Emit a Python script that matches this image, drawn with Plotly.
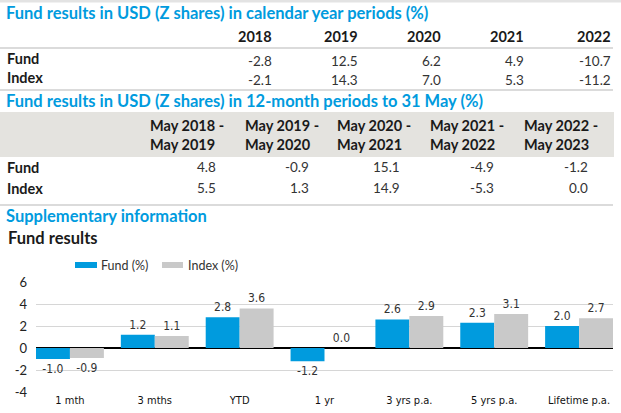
import plotly.graph_objects as go

# ---------------- data ----------------
cal_years = ["2018", "2019", "2020", "2021", "2022"]
cal_fund = [-2.8, 12.5, 6.2, 4.9, -10.7]
cal_index = [-2.1, 14.3, 7.0, 5.3, -11.2]

period_start = ["May 2018 -", "May 2019 -", "May 2020 -", "May 2021 -", "May 2022 -"]
period_end = ["May 2019", "May 2020", "May 2021", "May 2022", "May 2023"]
per_fund = [4.8, -0.9, 15.1, -4.9, -1.2]
per_index = [5.5, 1.3, 14.9, -5.3, 0.0]

row_labels = ["Fund", "Index"]

sup_categories = ["1 mth", "3 mths", "YTD", "1 yr", "3 yrs p.a.", "5 yrs p.a.", "Lifetime p.a."]
sup_fund = [-1.0, 1.2, 2.8, -1.2, 2.6, 2.3, 2.0]
sup_index = [-0.9, 1.1, 3.6, 0.0, 2.9, 3.1, 2.7]
series_names = ["Fund (%)", "Index (%)"]
y_ticks = [-4, -2, 0, 2, 4, 6]

title_cal = "Fund results in USD (Z shares) in calendar year periods (%)"
title_per = "Fund results in USD (Z shares) in 12-month periods to 31 May (%)"
title_sup = "Supplementary information"
title_chart = "Fund results"

# ---------------- style ----------------
W, H = 621, 413
BLUE = "#009BDE"
GREY_BAR = "#C9C9C9"
BAND = "#E4E3DF"
RULE = "#CFCFCF"
FONT = "Lato, 'Noto Sans', sans-serif"
NARROW = "'Liberation Sans Narrow', 'DejaVu Sans Condensed', Lato, sans-serif"
PLOT_X0, PLOT_X1 = 36, 613
PLOT_Y0, PLOT_Y1 = 282, 392       # pixel top / bottom of chart area
Y_RANGE = [-4, 6]


def px(x):
    return x / W


def py(y):
    return 1 - y / H


annotations = []
shapes = []


def text(x, y, s, size=13, color="#1a1a1a", bold=False, xanchor="left", family=FONT):
    annotations.append(dict(
        x=px(x), y=py(y), xref="paper", yref="paper", text=f"<b>{s}</b>" if bold else s,
        showarrow=False, xanchor=xanchor, yanchor="middle",
        font=dict(size=size, color=color, family=family)))


def hline(y, x0=0, x1=613, color=RULE, width=1.3):
    shapes.append(dict(type="line", xref="paper", yref="paper", x0=px(x0), x1=px(x1),
                       y0=py(y), y1=py(y), line=dict(color=color, width=width)))


def rect(x0, y0, x1, y1, color):
    shapes.append(dict(type="rect", xref="paper", yref="paper", x0=px(x0), x1=px(x1),
                       y0=py(y0), y1=py(y1), fillcolor=color, line=dict(width=0), layer="below"))


HEAD = 14.5
NUM = 13.5
TITLE = 16.5

# top rule
rect(0, 0, 621, 2.5, "#E3E3E3")

# ----- calendar table -----
text(4, 13, title_cal, size=TITLE, color=BLUE, bold=True)
cal_right = [274, 360, 443, 526, 613]
for i, yr in enumerate(cal_years):
    text(cal_right[i], 36, yr, size=HEAD, bold=True, xanchor="right")
hline(48)
text(5, 58, row_labels[0], size=HEAD, bold=True)
text(5, 78, row_labels[1], size=HEAD, bold=True)
for i in range(len(cal_years)):
    text(cal_right[i], 61, f"{cal_fund[i]:.1f}", size=NUM, color="#333", xanchor="right")
    text(cal_right[i], 80, f"{cal_index[i]:.1f}", size=NUM, color="#333", xanchor="right")
hline(90)

# ----- 12-month table -----
text(4, 101, title_per, size=TITLE, color=BLUE, bold=True)
rect(0, 112, 614, 157, BAND)
per_left = [148, 243, 335, 428, 522]
per_right = [218, 311, 402, 496, 590]
for i in range(len(period_start)):
    text(per_left[i], 125, period_start[i], size=HEAD, bold=True)
    text(per_left[i], 144, period_end[i], size=HEAD, bold=True)
    text(per_right[i], 167, f"{per_fund[i]:.1f}", size=NUM, color="#333", xanchor="right")
    text(per_right[i], 188, f"{per_index[i]:.1f}", size=NUM, color="#333", xanchor="right")
text(5, 167, row_labels[0], size=HEAD, bold=True)
text(5, 188, row_labels[1], size=HEAD, bold=True)
hline(205)

# ----- supplementary -----
text(4, 216, title_sup, size=TITLE, color=BLUE, bold=True)
text(6, 238, title_chart, size=TITLE, color="#1a1a1a", bold=True)

# custom legend
rect(75, 262, 97, 268, BLUE)
text(99, 265, series_names[0], size=12.5, color="#333")
rect(162, 262, 183, 268, GREY_BAR)
text(186, 265, series_names[1], size=12.5, color="#333")

fig = go.Figure()
for name, vals, col in [(series_names[0], sup_fund, BLUE), (series_names[1], sup_index, GREY_BAR)]:
    fig.add_trace(go.Bar(
        x=sup_categories, y=vals, name=name, marker=dict(color=col, line=dict(width=0)),
        text=[f"{v:.1f}" for v in vals], texttemplate="%{text}",
        textposition="outside", cliponaxis=False,
        textfont=dict(size=12, color="#333", family=NARROW), showlegend=False))

fig.update_layout(
    width=W, height=H, autosize=False, showlegend=False,
    margin=dict(l=0, r=0, t=0, b=0, pad=0, autoexpand=False),
    paper_bgcolor="white", plot_bgcolor="white",
    barmode="group", bargap=0.2, bargroupgap=0,
    font=dict(family=FONT),
    xaxis=dict(domain=[px(PLOT_X0), px(PLOT_X1)], type="category", range=[-0.4, 6.4],
               showgrid=False, showline=False, ticks="", zeroline=False, automargin=False,
               tickfont=dict(size=11, color="#111", family=NARROW)),
    yaxis=dict(domain=[py(PLOT_Y1), py(PLOT_Y0)], range=Y_RANGE,
               tickmode="array", tickvals=y_ticks, ticktext=[str(t) for t in y_ticks],
               showgrid=True, gridcolor="#D6D6D6", gridwidth=1.3,
               zeroline=True, zerolinecolor="#000", zerolinewidth=1.5, automargin=False,
               showline=False, ticks="", ticklabelstandoff=8, ticklabeloverflow="allow",
               tickfont=dict(size=13, color="#222", family=FONT)),
    annotations=annotations, shapes=shapes,
)

fig.write_html("out.html", config={"displayModeBar": False},
               post_script="document.body.style.margin='0';")
